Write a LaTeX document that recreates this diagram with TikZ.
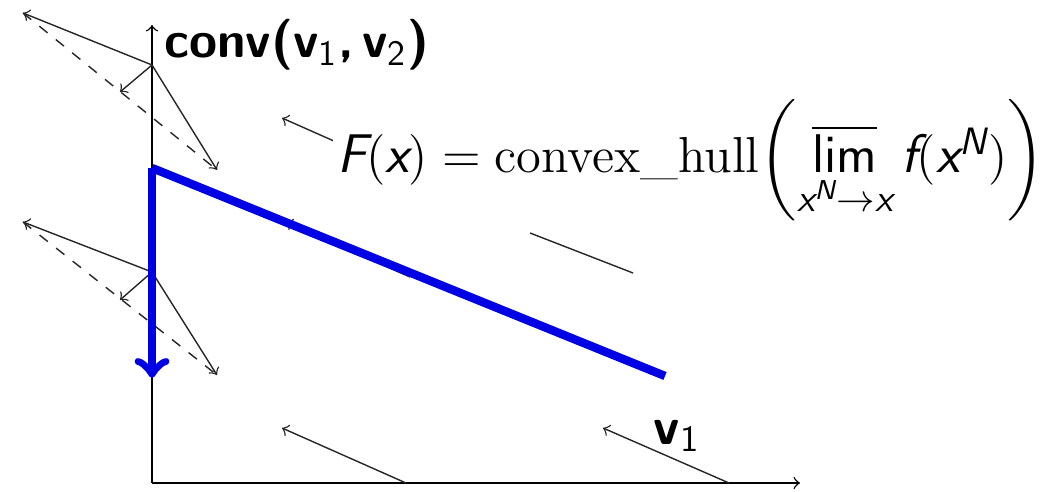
\documentclass[tikz,border=0pt]{standalone}
\usepackage{amsmath}
\tikzset{>=to}
\colorlet{myblue}{blue!90!black}
\tikzstyle{field}=[->,black!85]
\tikzstyle{hull}=[black!85,dashed]
\tikzstyle{sel}=[myblue,line width=2.4pt]
\newcommand{\sv}[1]{\text{\sffamily\slshape #1}}

\begin{document}
\begin{tikzpicture}
  \useasboundingbox (0,0) rectangle (10.6,4.91);
  \coordinate (O) at (1.52,0.08);
  \coordinate (X) at (8.00,0.08);
  \coordinate (Y) at (1.52,4.66);
  \coordinate (P1) at (1.52,4.26); % upper kink point
  \coordinate (P2) at (1.52,2.19); % lower kink point
  \coordinate (A1) at (0.23,4.78);
  \coordinate (B1) at (1.20,3.99);
  \coordinate (C1) at (2.17,3.21);
  \coordinate (A2) at (0.23,2.69);
  \coordinate (B2) at (1.20,1.91);
  \coordinate (C2) at (2.17,1.16);
  \coordinate (K) at (1.52,3.23);
  \coordinate (R) at (6.65,1.15);
  \coordinate (D) at (1.52,1.13);
  
  % AXIS
  \draw[->] (O) -- (X);
  \draw[->] (O) -- (Y);
  \node[anchor=west,inner sep=1pt] (conv) at (1.60,4.46)
    {\fontsize{14.5}{17}\selectfont\sffamily\bfseries conv(v\textsubscript{\mdseries 1},\,v\textsubscript{\mdseries 2})};
  
  % FIELD v1
  \coordinate (t1) at (4.06,0.08); \coordinate (h1) at (2.82,0.63);
  \coordinate (t2) at (7.29,0.08); \coordinate (h2) at (6.03,0.63);
  \coordinate (t3) at (4.06,3.18); \coordinate (h3) at (2.82,3.73);
  \coordinate (t4) at (4.10,2.14); \coordinate (h4) at (2.86,2.69);
  \coordinate (t5) at (6.33,2.18); \coordinate (h5) at (5.30,2.58);
  \draw[field] (t1) -- (h1);
  \draw[field] (t2) -- (h2);
  \draw[field] (t3) -- (h3);
  \draw[field] (t4) -- (h4);
  \draw[black!85] (t5) -- (h5);
  \node (v1) at (6.77,0.55) {\fontsize{15}{18}\selectfont\sffamily\bfseries v\textsubscript{\mdseries 1}};
  
  % KINKS
  \foreach \p/\a/\b/\c in {P1/A1/B1/C1,P2/A2/B2/C2}{
    \draw[hull] (\a) -- (\c);
    \draw[field] (\p) -- (\a);
    \draw[field] (\p) -- (\b);
    \draw[field] (\p) -- (\c);
  }
  
  % FILIPPOV
  \node[fill=white,inner sep=1pt] (F) at (6.91,3.31) {\fontsize{15.5}{18}\selectfont
    $\sv{F}(\sv{x}) = \mathrm{convex\_hull}\mathopen{}\left(\mathop{\overline{\textsf{lim}}}\limits_{\sv{x}^{\sv{N}}\to\sv{x}} \sv{f}(\sv{x}^{\sv{N}})\right)$};
  \draw[sel] (R) -- (K);
  \draw[sel,->] (K) -- (D);
  
\end{tikzpicture}
\end{document}
